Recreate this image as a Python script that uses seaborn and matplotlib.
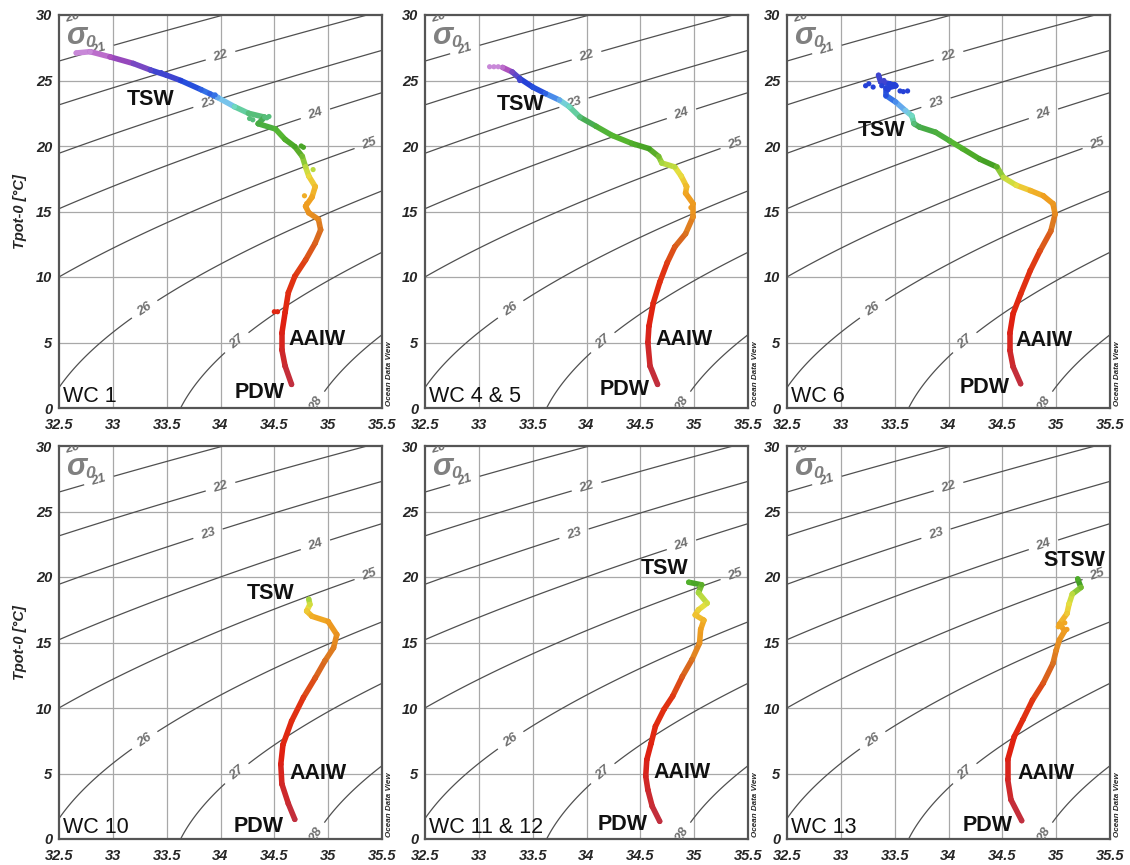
import numpy as np
import pandas as pd
import matplotlib
matplotlib.use("Agg")
import matplotlib.pyplot as plt
from matplotlib.collections import LineCollection
from matplotlib.colors import LinearSegmentedColormap, Normalize
import seaborn as sns

# ---------------------------------------------------------
# Data: salinity, potential temperature, approx depth (m) per cast
# ---------------------------------------------------------
WC1_S = [32.66, 32.79, 32.975, 33.19, 33.35, 33.5, 33.63, 33.82, 33.975, 34.13, 34.26, 34.41,
         34.35, 34.51, 34.6, 34.69, 34.76, 34.79, 34.82, 34.88, 34.85, 34.79, 34.82, 34.91,
         34.93, 34.88, 34.79, 34.69, 34.63, 34.6, 34.57, 34.57, 34.6, 34.66]
WC1_T = [27.1, 27.2, 26.8, 26.3, 25.8, 25.4, 25.0, 24.3, 23.7, 23.0, 22.5, 22.2,
         21.7, 21.3, 20.5, 19.95, 19.2, 18.4, 17.7, 16.9, 16.1, 15.4, 14.9, 14.4,
         13.6, 12.6, 11.3, 10.05, 8.8, 7.3, 5.7, 4.45, 3.2, 1.8]
WC1_D = [0, 5, 15, 25, 35, 40, 45, 58, 78, 95, 108, 112, 120, 135, 150, 165, 185, 200,
         220, 245, 265, 280, 300, 330, 370, 420, 480, 560, 650, 800, 1000, 1200, 1400, 1600]
WC1_EXTRA = [(34.45, 22.25, 112), (34.43, 22.15, 112), (34.3, 22.0, 110), (34.27, 22.1, 108),
             (34.75, 20.0, 165), (34.77, 19.9, 165), (34.86, 18.2, 205), (34.5, 7.35, 800),
             (34.53, 7.35, 800), (34.78, 16.2, 262), (34.8, 15.6, 278), (33.9, 24.0, 62),
             (33.95, 23.9, 64), (33.45, 25.6, 38)]

WC45_S = [33.22, 33.31, 33.38, 33.5, 33.62, 33.75, 33.84, 33.94, 34.09, 34.24, 34.42, 34.58,
          34.67, 34.7, 34.82, 34.88, 34.93, 34.92, 34.99, 34.99, 34.92, 34.82, 34.75, 34.68,
          34.62, 34.58, 34.57, 34.59, 34.66]
WC45_T = [26.0, 25.65, 25.15, 24.5, 24.0, 23.5, 23.0, 22.2, 21.5, 20.8, 20.2, 19.8,
          19.2, 18.7, 18.4, 17.7, 16.9, 16.4, 15.6, 14.6, 13.3, 12.3, 11.1, 9.6,
          8.0, 6.25, 5.0, 3.2, 1.8]
WC45_D = [10, 25, 40, 50, 62, 80, 95, 110, 125, 140, 155, 170, 185, 195, 205, 220, 245,
          265, 285, 310, 380, 440, 520, 620, 760, 950, 1150, 1400, 1600]
WC45_EXTRA = [(33.1, 26.05, 0), (33.14, 26.05, 0), (33.18, 26.05, 5), (33.38, 25.0, 42),
              (34.45, 20.1, 158), (34.92, 17.0, 245), (34.97, 15.3, 290)]

WC6_S = [33.35, 33.37, 33.45, 33.51, 33.42, 33.42, 33.51, 33.6, 33.66, 33.68, 33.73, 33.88,
         34.01, 34.13, 34.29, 34.45, 34.51, 34.63, 34.76, 34.88, 34.97, 34.99, 34.95, 34.85,
         34.76, 34.67, 34.6, 34.57, 34.57, 34.6, 34.67]
WC6_T = [25.4, 24.9, 24.75, 24.6, 24.4, 23.85, 23.35, 22.7, 22.3, 21.7, 21.45, 21.05,
         20.4, 19.8, 19.0, 18.4, 17.6, 17.0, 16.6, 16.2, 15.6, 14.8, 13.5, 12.0,
         10.5, 8.7, 7.2, 5.7, 4.4, 3.15, 1.85]
WC6_D = [40, 42, 44, 45, 46, 55, 70, 85, 95, 112, 118, 125, 135, 150, 165, 180, 200, 215,
         250, 270, 290, 320, 400, 480, 570, 680, 820, 1000, 1200, 1400, 1600]
WC6_EXTRA = [(33.23, 24.6, 45), (33.26, 24.75, 45), (33.3, 24.5, 45), (33.55, 24.2, 48),
             (33.58, 24.15, 48), (33.62, 24.2, 48), (33.47, 24.55, 45), (33.5, 24.7, 45),
             (33.4, 25.0, 42), (33.44, 24.3, 48), (33.38, 24.6, 45)]

WC10_S = [34.82, 34.83, 34.80, 34.85, 35.0, 35.08, 35.05, 34.97, 34.88, 34.77, 34.66, 34.58,
          34.56, 34.57, 34.63, 34.69]
WC10_T = [18.3, 17.9, 17.4, 17.0, 16.6, 15.6, 14.6, 13.6, 12.3, 10.8, 9.0, 7.2,
          5.7, 4.2, 2.7, 1.5]
WC10_D = [195, 210, 235, 260, 275, 300, 340, 380, 440, 530, 660, 820, 1000, 1200, 1400, 1600]
WC10_EXTRA = []

WC1112_S = [34.95, 35.07, 35.04, 35.12, 35.04, 35.01, 35.09, 35.06, 35.05, 34.98, 34.89, 34.8,
            34.72, 34.64, 34.6, 34.56, 34.55, 34.57, 34.61, 34.68]
WC1112_T = [19.6, 19.4, 18.8, 18.0, 17.5, 17.1, 16.7, 16.0, 14.95, 13.7, 12.4, 10.9,
            9.9, 8.6, 7.3, 6.05, 4.8, 3.75, 2.5, 1.35]
WC1112_D = [150, 175, 195, 210, 225, 240, 255, 270, 300, 370, 440, 540, 610, 720, 850,
            1000, 1150, 1300, 1450, 1600]
WC1112_EXTRA = []

WC13_S = [35.2, 35.23, 35.15, 35.12, 35.1, 35.03, 35.08, 35.03, 35.0, 34.97, 34.88, 34.78,
          34.69, 34.61, 34.55, 34.55, 34.58, 34.68]
WC13_T = [19.85, 19.2, 18.7, 17.95, 17.2, 16.4, 15.9, 15.2, 14.4, 13.4, 11.9, 10.6,
          9.1, 7.8, 6.05, 4.55, 3.0, 1.4]
WC13_D = [160, 185, 200, 215, 235, 265, 280, 300, 330, 380, 450, 540, 660, 780, 980,
          1180, 1400, 1600]
WC13_EXTRA = [(35.05, 16.3, 268), (35.1, 16.0, 275), (35.02, 16.2, 268), (35.08, 16.5, 265)]

PANEL_NAMES = ["WC 1", "WC 4 & 5", "WC 6", "WC 10", "WC 11 & 12", "WC 13"]
PANEL_DATA = [
    (WC1_S, WC1_T, WC1_D, WC1_EXTRA),
    (WC45_S, WC45_T, WC45_D, WC45_EXTRA),
    (WC6_S, WC6_T, WC6_D, WC6_EXTRA),
    (WC10_S, WC10_T, WC10_D, WC10_EXTRA),
    (WC1112_S, WC1112_T, WC1112_D, WC1112_EXTRA),
    (WC13_S, WC13_T, WC13_D, WC13_EXTRA),
]

# water mass labels: (text, S, T) left edge / vertical centre
WATER_MASSES = [
    [("TSW", 33.13, 23.55), ("AAIW", 34.63, 5.2), ("PDW", 34.13, 1.2)],
    [("TSW", 33.17, 23.2), ("AAIW", 34.64, 5.2), ("PDW", 34.12, 1.4)],
    [("TSW", 33.16, 21.2), ("AAIW", 34.62, 5.15), ("PDW", 34.10, 1.6)],
    [("TSW", 34.24, 18.75), ("AAIW", 34.64, 5.0), ("PDW", 34.12, 0.95)],
    [("TSW", 34.50, 20.67), ("AAIW", 34.62, 5.1), ("PDW", 34.10, 1.1)],
    [("STSW", 34.88, 21.27), ("AAIW", 34.64, 5.0), ("PDW", 34.13, 1.0)],
]

SIGMA_LEVELS = [20, 21, 22, 23, 24, 25, 26, 27, 28]
SIGMA_LABEL_POS = [(32.62, 29.9), (32.87, 27.4), (34.0, 26.9), (33.88, 23.4), (34.88, 22.5),
                   (35.38, 20.2), (33.29, 7.6), (34.15, 5.0), (34.88, 0.3)]

# ODV-like depth colour bar
DEPTH_NODES = [0, 15, 30, 45, 65, 80, 95, 115, 140, 170, 195, 215, 240, 270, 380, 550, 900, 1600]
DEPTH_COLORS = ["#c888d8", "#a848b8", "#6048c8", "#2040d8", "#3878e8", "#78c0f0", "#70dcc0",
                "#44a848", "#58b830", "#44a024", "#a8d840", "#e8e040", "#f0c030", "#f0a020",
                "#d87020", "#e03412", "#e02010", "#c03040"]


# ---------------------------------------------------------
# sigma-0 from UNESCO EOS-80 at surface pressure
# ---------------------------------------------------------
def sigma0(S, T):
    rw = (999.842594 + 6.793952e-2 * T - 9.095290e-3 * T**2 + 1.001685e-4 * T**3
          - 1.120083e-6 * T**4 + 6.536332e-9 * T**5)
    A = 0.824493 - 4.0899e-3 * T + 7.6438e-5 * T**2 - 8.2467e-7 * T**3 + 5.3875e-9 * T**4
    B = -5.72466e-3 + 1.0227e-4 * T - 1.6546e-6 * T**2
    C = 4.8314e-4
    return rw + A * S + B * S**1.5 + C * S**2 - 1000.0


sg, tg = np.meshgrid(np.linspace(32.5, 35.5, 200), np.linspace(0, 30, 200))
sig = sigma0(sg, tg)

cmap = LinearSegmentedColormap.from_list(
    "odv", [(d / DEPTH_NODES[-1], c) for d, c in zip(DEPTH_NODES, DEPTH_COLORS)])
norm = Normalize(0, DEPTH_NODES[-1])

sns.set_style("white")
plt.rcParams["font.family"] = ["Liberation Sans", "DejaVu Sans"]

fig = plt.figure(figsize=(11.3, 8.65), dpi=100)

W, H = 1130, 865
lefts = [59, 425, 787]
tops = [15, 446]
aw, ah = 323, 393

for i, (name, (S, T, D, extra)) in enumerate(zip(PANEL_NAMES, PANEL_DATA)):
    r, c = divmod(i, 3)
    ax = fig.add_axes([lefts[c] / W, 1 - (tops[r] + ah) / H, aw / W, ah / H])

    # grid
    for x in np.arange(33.0, 35.5, 0.5):
        ax.axvline(x, color="#a8a8a8", lw=0.9, zorder=0)
    for y in [5, 10, 15, 20, 25]:
        ax.axhline(y, color="#a8a8a8", lw=0.9, zorder=0)

    # density contours
    cs = ax.contour(sg, tg, sig, levels=SIGMA_LEVELS, colors="#505050", linewidths=0.9, zorder=1)
    with plt.rc_context({"font.weight": "bold", "font.style": "italic"}):
        ax.clabel(cs, fmt="%d", fontsize=9.5, colors="#707070", inline=True,
                  inline_spacing=8, manual=SIGMA_LABEL_POS)

    # profile
    df = pd.DataFrame({"S": S, "T": T, "depth": D})
    pts = df[["S", "T"]].to_numpy()
    segs = np.stack([pts[:-1], pts[1:]], axis=1)
    mid = (df["depth"].to_numpy()[:-1] + df["depth"].to_numpy()[1:]) / 2
    lc = LineCollection(segs, colors=cmap(norm(mid)), linewidths=4.0, capstyle="round",
                        joinstyle="round", zorder=3)
    ax.add_collection(lc)
    allpts = pd.concat([df, pd.DataFrame(extra, columns=["S", "T", "depth"])], ignore_index=True)
    sns.scatterplot(data=allpts, x="S", y="T", hue="depth", palette=cmap, hue_norm=norm,
                    s=14, linewidth=0, legend=False, ax=ax, zorder=4)

    ax.set_xlim(32.5, 35.5)
    ax.set_ylim(0, 30)
    ax.set_xticks([32.5, 33, 33.5, 34, 34.5, 35, 35.5])
    ax.set_xticklabels(["32.5", "33", "33.5", "34", "34.5", "35", "35.5"])
    ax.set_yticks([0, 5, 10, 15, 20, 25, 30])
    ax.set_xticks(np.arange(32.5, 35.51, 0.25), minor=True)
    ax.set_yticks(np.arange(0, 30.1, 2.5), minor=True)
    ax.tick_params(which="both", direction="in", color="#606060", width=0.8)
    ax.tick_params(which="major", length=3, labelsize=10.5)
    ax.tick_params(axis="x", which="major", pad=7)
    ax.tick_params(axis="y", which="major", pad=5)
    ax.tick_params(which="minor", length=2)
    for lab in ax.get_xticklabels() + ax.get_yticklabels():
        lab.set_fontweight("bold")
        lab.set_fontstyle("italic")
    for sp in ax.spines.values():
        sp.set_color("#555555")
        sp.set_linewidth(1.6)
    ax.set_xlabel("")
    if c == 0:
        ax.set_ylabel("Tpot-0 [°C]", fontsize=10.5, fontweight="bold", fontstyle="italic",
                      labelpad=6)
    else:
        ax.set_ylabel("")

    # sigma_0 marker
    ax.text(32.57, 28.4, "σ", fontsize=22, fontweight="bold", fontstyle="italic",
            color="#808080", va="center", ha="left", zorder=5)
    ax.text(32.74, 27.9, "0", fontsize=12.5, fontweight="bold", fontstyle="italic",
            color="#808080", va="center", ha="left", zorder=5)

    # panel name
    ax.text(32.54, 0.9, name, fontsize=15.5, va="center", ha="left", color="#111111", zorder=5)

    for txt, xs, yt in WATER_MASSES[i]:
        ax.text(xs, yt, txt, fontsize=15.5, fontweight="bold", va="center", ha="left",
                color="#111111", zorder=6)

    ax.text(1.012, 0.005, "Ocean Data View", transform=ax.transAxes, rotation=90,
            fontsize=5.8, fontweight="bold", fontstyle="italic", va="bottom", ha="left")

fig.savefig("out.png", dpi=100)
